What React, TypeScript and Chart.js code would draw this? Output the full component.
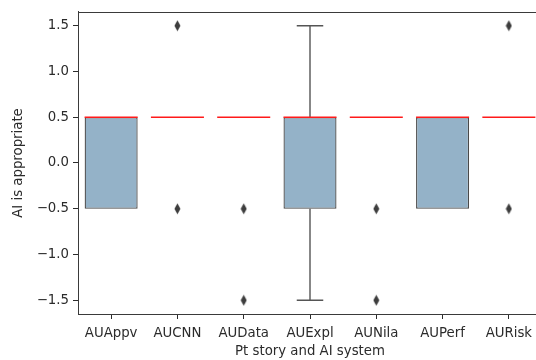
import React, { useEffect, useRef } from "react";
import { Chart, registerables } from "chart.js";

Chart.register(...registerables);

const categories = ["AUAppv", "AUCNN", "AUData", "AUExpl", "AUNila", "AUPerf", "AURisk"];
// box quartiles (null = box collapsed onto the median)
const q1: (number | null)[] = [-0.5, null, null, -0.5, null, -0.5, null];
const q3: (number | null)[] = [0.5, null, null, 0.5, null, 0.5, null];
const medians = [0.5, 0.5, 0.5, 0.5, 0.5, 0.5, 0.5];
const whiskerLow: (number | null)[] = [null, null, null, -1.5, null, null, null];
const whiskerHigh: (number | null)[] = [null, null, null, 1.5, null, null, null];
const outlierCats = ["AUCNN", "AUCNN", "AUData", "AUData", "AUNila", "AUNila", "AURisk", "AURisk"];
const outlierVals = [1.5, -0.5, -0.5, -1.5, -0.5, -1.5, 1.5, -0.5];
const yTicks = [-1.5, -1.0, -0.5, 0.0, 0.5, 1.0, 1.5];
const yTickLabels = ["\u22121.5", "\u22121.0", "\u22120.5", "0.0", "0.5", "1.0", "1.5"];
const xTitle = "Pt story and AI system";
const yTitle = "AI is appropriate";

const FONT = "'DejaVu Sans', sans-serif";
const TEXT = "#2b2b2b";
const LINE = "#555555";

function makeDiamond(): HTMLCanvasElement {
  const c = document.createElement("canvas");
  c.width = 7;
  c.height = 12;
  const g = c.getContext("2d")!;
  g.fillStyle = "#3d3d3d";
  g.beginPath();
  g.moveTo(3.5, 0.5);
  g.lineTo(6.5, 6);
  g.lineTo(3.5, 11.5);
  g.lineTo(0.5, 6);
  g.closePath();
  g.fill();
  return c;
}

const boxPlugin = {
  id: "boxExtras",
  afterDatasetsDraw(chart: any) {
    const { ctx, chartArea, scales } = chart;
    const xs = scales.x;
    const ys = scales.y;
    const step = xs.getPixelForValue(1) - xs.getPixelForValue(0);
    ctx.save();
    // whiskers
    ctx.strokeStyle = LINE;
    ctx.lineWidth = 1.4;
    categories.forEach((_, i) => {
      const cx = xs.getPixelForValue(i);
      const capHalf = step * 0.2;
      const pairs: [number | null, number | null][] = [
        [q3[i], whiskerHigh[i]],
        [q1[i], whiskerLow[i]],
      ];
      pairs.forEach(([from, to]) => {
        if (from == null || to == null) return;
        const y0 = ys.getPixelForValue(from);
        const y1 = ys.getPixelForValue(to);
        ctx.beginPath();
        ctx.moveTo(cx, y0);
        ctx.lineTo(cx, y1);
        ctx.moveTo(cx - capHalf, y1);
        ctx.lineTo(cx + capHalf, y1);
        ctx.stroke();
      });
    });
    // medians
    ctx.strokeStyle = "#ff1a1a";
    ctx.lineWidth = 1.7;
    categories.forEach((_, i) => {
      const cx = xs.getPixelForValue(i);
      const half = step * 0.4;
      const y = ys.getPixelForValue(medians[i]);
      ctx.beginPath();
      ctx.moveTo(cx - half, y);
      ctx.lineTo(cx + half, y);
      ctx.stroke();
    });
    // frame
    ctx.strokeStyle = "#3a3a3a";
    ctx.lineWidth = 1;
    ctx.strokeRect(
      Math.round(chartArea.left) + 0.5,
      Math.round(chartArea.top) + 0.5,
      Math.round(chartArea.right - chartArea.left),
      Math.round(chartArea.bottom - chartArea.top)
    );
    ctx.restore();
  },
};

export default function App() {
  const ref = useRef<HTMLCanvasElement | null>(null);
  useEffect(() => {
    document.body.style.margin = "0";
    document.body.style.overflow = "hidden";
    const diamond = makeDiamond();
    const boxData = categories.map((_, i) =>
      q1[i] != null && q3[i] != null ? [q1[i], q3[i]] : null
    );
    const outliers = outlierCats.map((c, i) => ({ x: c, y: outlierVals[i] }));
    const chart = new Chart(ref.current!, {
      type: "bar",
      data: {
        labels: categories,
        datasets: [
          {
            type: "bar",
            data: boxData as any,
            backgroundColor: "#94b2c8",
            borderColor: "#4a4a4a",
            borderWidth: 1.3,
            borderSkipped: false,
            barPercentage: 0.8,
            categoryPercentage: 1,
          } as any,
          {
            type: "scatter",
            data: outliers as any,
            pointStyle: diamond as any,
            pointRadius: 5,
          } as any,
        ],
      },
      options: {
        animation: false,
        responsive: false,
        maintainAspectRatio: false,
        layout: { padding: { top: 6, right: 1, left: 0, bottom: 0 } },
        plugins: {
          legend: { display: false },
          tooltip: { enabled: false },
        },
        scales: {
          x: {
            type: "category",
            offset: true,
            grid: {
              display: true,
              drawOnChartArea: false,
              drawTicks: true,
              tickLength: 5,
              tickColor: TEXT,
              offset: false,
            },
            border: { display: true, color: "#3a3a3a" },
            ticks: {
              color: TEXT,
              font: { family: FONT, size: 13.3 },
              padding: 7,
              maxRotation: 0,
              autoSkip: false,
            },
            title: {
              display: true,
              text: xTitle,
              color: TEXT,
              font: { family: FONT, size: 13.3 },
              padding: { top: 0, bottom: 0 },
            },
            afterFit: (s: any) => {
              s.height = 46;
            },
          },
          y: {
            type: "linear",
            min: -1.65,
            max: 1.65,
            grid: {
              display: true,
              drawOnChartArea: false,
              drawTicks: true,
              tickLength: 5,
              tickColor: TEXT,
            },
            border: { display: true, color: "#3a3a3a" },
            afterBuildTicks: (s: any) => {
              s.ticks = yTicks.map((v) => ({ value: v }));
            },
            ticks: {
              color: TEXT,
              font: { family: FONT, size: 13.3 },
              padding: 4,
              callback: (v: any) => {
                const idx = yTicks.findIndex((t) => Math.abs(t - Number(v)) < 1e-9);
                return idx >= 0 ? yTickLabels[idx] : "";
              },
            },
            title: {
              display: true,
              text: yTitle,
              color: TEXT,
              font: { family: FONT, size: 13.3 },
              padding: { top: 11, bottom: 0 },
            },
            afterFit: (s: any) => {
              s.width = 78;
            },
          },
        },
      },
      plugins: [boxPlugin],
    });
    return () => chart.destroy();
  }, []);
  return (
    <div style={{ width: 536, height: 360, overflow: "hidden", position: "relative" }}>
      <canvas ref={ref} width={548} height={360} style={{ display: "block", width: 548, height: 360 }} />
    </div>
  );
}
